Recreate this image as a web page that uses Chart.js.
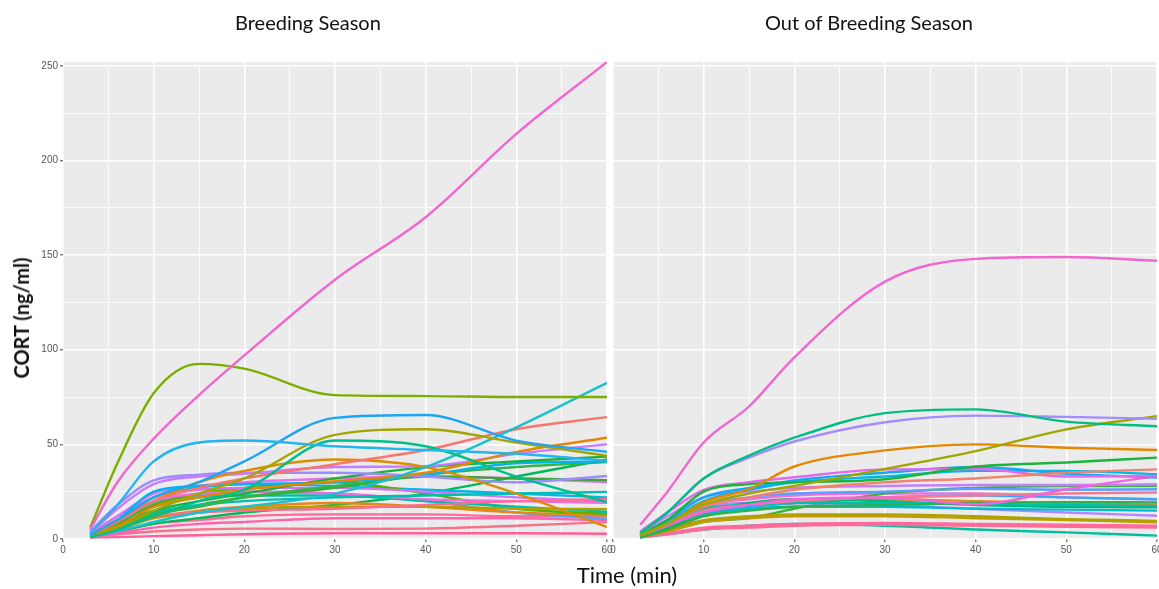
<!DOCTYPE html>
<html>
<head>
<meta charset="utf-8">
<title>CORT response curves</title>
<script src="https://cdn.jsdelivr.net/npm/chart.js@4.4.1/dist/chart.umd.min.js"></script>
<style>
  html, body { margin: 0; padding: 0; background: #ffffff; overflow: hidden; }
  #fig { position: relative; width: 1159px; height: 589px; overflow: hidden; }
  #fig canvas { position: absolute; top: 0; }
  .lbl { position: absolute; white-space: nowrap; color: #111; font-family: Lato, "Open Sans", sans-serif; line-height: 1; }
</style>
</head>
<body>
<div id="fig">
  <canvas id="breedingChart" width="630" height="589" style="left:0px"></canvas>
  <canvas id="outChart" width="590" height="589" style="left:590px"></canvas>
  <div class="lbl" style="left:235px; top:12px; font-size:20px;">Breeding Season</div>
  <div class="lbl" style="left:765px; top:12px; font-size:20px;">Out of Breeding Season</div>
  <div class="lbl" style="left:21px; top:318px; font-size:20px; font-weight:700; transform: translate(-50%,-50%) rotate(-90deg);">CORT (ng/ml)</div>
  <div class="lbl" style="left:627px; top:575px; font-size:22px; transform: translate(-50%,-50%);">Time (min)</div>
</div>
<script>
// Sampling times (min) shared by every individual curve
const timesMin = [3, 6, 10, 15, 20, 30, 40, 50, 60];

// Axis tick positions
const xTicks = [0, 10, 20, 30, 40, 50, 60];
const yTicks = [0, 50, 100, 150, 200, 250];

// CORT (ng/ml) per individual, breeding season
const breedingCort = [
  [5, 30, 53, 76, 97, 137, 170, 214, 252],
  [6, 40, 77, 92.5, 90, 76, 75.5, 75, 75],
  [3, 18, 41, 51, 52, 49, 47, 45, 41.3],
  [2, 10, 22, 30, 41, 64, 65.5, 52, 46],
  [2, 6, 15, 24, 32, 55, 58, 51, 44],
  [1, 5, 12, 20, 26, 52, 49, 33, 19.5],
  [1, 4, 9, 14, 17, 24, 38, 59, 82.5],
  [2, 9, 20, 27, 32, 39.5, 47, 58, 64.4],
  [2, 7, 17, 22, 26, 30.5, 35, 46, 53.5],
  [2, 10, 20, 30, 36, 42, 38, 24, 6.3],
  [3, 16, 29, 33, 34.5, 38, 38.5, 45, 50],
  [4, 18, 31, 34, 35, 35, 33, 30, 33.3],
  [2, 8, 15, 20, 24, 32, 38, 41, 43.5],
  [2, 10, 25, 28, 29, 30, 34, 40, 41],
  [1, 6, 13, 17, 22, 28, 34, 38, 40.7],
  [2, 7, 14, 18, 20, 22, 23, 24, 24.9],
  [1, 5, 12, 18, 22, 27, 33, 32, 31.1],
  [2, 6, 12, 14, 15, 16, 18, 20, 21.1],
  [3, 12, 22, 26, 27, 27, 25, 22, 19.8],
  [2, 10, 20, 24, 25, 24, 21, 20, 19.1],
  [1, 5, 11, 14, 16, 17, 17, 16, 15.8],
  [2, 8, 17, 22, 23, 23, 20, 17, 14.4],
  [2, 8, 18, 24, 27, 30, 24, 16, 13.3],
  [1, 5, 11, 15, 17, 19, 17, 14, 12.4],
  [2, 9, 19, 23, 25, 24, 20, 14, 10.6],
  [1, 3, 6, 8, 9, 11, 11, 11, 9.7],
  [1, 2.5, 4, 5, 5.5, 5.3, 5.5, 7, 8.9],
  [0.8, 1, 1.5, 2, 2.5, 3, 3, 3, 2.8],
  [2, 10, 22, 27, 29, 28, 26, 24, 22],
  [1, 4, 8, 11, 14, 18, 24, 33, 42],
  [2, 12, 24, 28, 30, 32, 33, 32, 30],
  [1, 4, 8, 10, 12, 13, 13, 12, 12]
];

// CORT (ng/ml) per individual, out of breeding season
const outCort = [
  [7.5, 25, 51, 70, 96, 136, 148, 149, 147],
  [3, 14, 32, 44, 53.5, 66.5, 68.5, 62, 59.6],
  [3, 14, 32, 43, 51.5, 61.7, 65.2, 64.5, 63.5],
  [2, 8, 18, 24, 28, 37, 46.4, 57.9, 64.9],
  [2, 8, 19.3, 26.3, 38.3, 46.8, 50, 48.2, 47],
  [2, 10, 25, 29, 30, 31.6, 38.3, 40.4, 43],
  [2, 8, 17, 22, 26, 30, 32, 35, 36.8],
  [4, 14, 26, 30, 32.6, 36.8, 37, 33, 33.3],
  [2, 10, 22, 27, 31, 35, 38, 34.5, 32.5],
  [2, 9, 20, 26, 30, 33, 36, 36, 34.2],
  [2, 7, 14, 18, 21, 22, 18.4, 26.3, 33.3],
  [3, 12, 22, 25, 27, 28, 28.5, 28.5, 28.9],
  [2, 9, 18, 22, 24, 25, 26.5, 26, 26.3],
  [2, 7, 15, 18, 20, 22, 23, 24, 24.6],
  [1, 5, 12, 15, 17, 18, 19, 19.5, 19.3],
  [2, 8, 16, 18, 19, 19, 18.5, 18, 17.5],
  [2, 6, 14, 19, 21, 20, 18, 17, 16.7],
  [1, 6, 13, 16, 17, 17, 16, 15.5, 15],
  [3, 10, 17, 19, 19, 18, 16, 14, 12.3],
  [1, 5, 10, 12, 13, 13, 12, 10.5, 9.6],
  [1, 4, 9, 11, 12, 12, 11, 10, 8.8],
  [1, 3, 6, 7, 8, 8.5, 8, 7.5, 7],
  [1, 2.5, 5, 6, 7, 7.5, 7, 6.5, 6.1],
  [0.8, 2.5, 5, 7, 8, 7, 5, 3.5, 1.8],
  [1, 4, 9, 11, 16, 24, 27, 28, 28],
  [2, 7, 14, 17, 19, 22, 23, 22, 21],
  [1, 6, 13, 17, 19, 21, 20, 19, 18],
  [2, 9, 18, 21, 23, 24, 24, 22, 21]
];

// Line colours (hue palette, one per individual)
const breedingColors = [
  '#F166CF', '#7CAE00', '#22B5F0', '#1EA4F5', '#A3A500', '#00BF8C', '#1CBFD0', '#F8766D',
  '#E58700', '#DB8E00', '#C77CFF', '#9B8CFF', '#1BB23A', '#00B4F2', '#35B44A', '#00BFAE',
  '#39A934', '#FF6C91', '#D374F8', '#EE6BE0', '#B79F00', '#00C0A3', '#53B400', '#E7861B',
  '#4DA3FF', '#FF62AF', '#F8728B', '#FF5F9A', '#00B8E7', '#00BA55', '#E96EF2', '#FF6A98'
];
const outColors = [
  '#F166CF', '#00BE83', '#A48CFF', '#9DA700', '#E58700', '#1EB43C', '#F4816B', '#E269F0',
  '#12A8F6', '#00B7EC', '#F064DC', '#C47EFF', '#5B9EFF', '#F47A93', '#2BB24E', '#00BFB0',
  '#00B86A', '#00BCD2', '#B684FF', '#ADA200', '#C39C00', '#FF69A0', '#FF6C91', '#00BFA0',
  '#3FB33A', '#35A8F8', '#E48A1C', '#F56FD9'
];

// Grey panel background behind the grid
const panelBackground = {
  id: 'panelBackground',
  beforeDraw(chart) {
    const a = chart.chartArea;
    const ctx = chart.ctx;
    ctx.save();
    ctx.fillStyle = '#EBEBEB';
    ctx.fillRect(a.left, a.top, a.right - a.left, a.bottom - a.top);
    ctx.restore();
  }
};

function buildDatasets(series, colors) {
  return series.map((vals, i) => ({
    data: vals.map((v, j) => ({ x: timesMin[j], y: v })),
    borderColor: colors[i % colors.length],
    backgroundColor: colors[i % colors.length],
    borderWidth: 2.4,
    pointRadius: 0,
    fill: false,
    cubicInterpolationMode: 'monotone'
  }));
}

const tickFont = { family: '"Liberation Sans", Arial, sans-serif', size: 10 };
const tickGrey = '#555555';

function makePanel(canvasId, series, colors, withYAxis) {
  const xMajor = v => xTicks.includes(v);
  const yMajor = v => yTicks.includes(v);
  return new Chart(document.getElementById(canvasId), {
    type: 'line',
    data: { datasets: buildDatasets(series, colors) },
    plugins: [panelBackground],
    options: {
      responsive: false,
      animation: false,
      events: [],
      layout: { padding: withYAxis ? { top: 62, right: 23, left: 0, bottom: 0 } : { top: 62, right: 23, left: 23, bottom: 0 } },
      plugins: { legend: { display: false }, tooltip: { enabled: false }, title: { display: false } },
      scales: {
        x: {
          type: 'linear',
          min: 0,
          max: 60,
          border: { display: false },
          grid: {
            color: '#FFFFFF',
            lineWidth: c => (c.tick && xMajor(c.tick.value)) ? 1.6 : 0.8,
            drawTicks: true,
            tickLength: 3,
            tickWidth: 1,
            tickColor: c => (c.tick && xMajor(c.tick.value)) ? '#444444' : 'rgba(0,0,0,0)'
          },
          ticks: {
            stepSize: 5,
            autoSkip: false,
            maxRotation: 0,
            includeBounds: false,
            padding: 2,
            color: tickGrey,
            font: tickFont,
            callback: v => xMajor(v) ? String(v) : ''
          },
          afterFit: s => { s.height = 50; }
        },
        y: {
          type: 'linear',
          min: 0,
          max: 252,
          border: { display: false },
          grid: {
            color: '#FFFFFF',
            lineWidth: c => (c.tick && yMajor(c.tick.value)) ? 1.6 : 0.8,
            drawTicks: withYAxis,
            tickLength: 3,
            tickWidth: 1,
            tickColor: c => (c.tick && yMajor(c.tick.value)) ? '#444444' : 'rgba(0,0,0,0)'
          },
          ticks: {
            display: withYAxis,
            stepSize: 25,
            autoSkip: false,
            includeBounds: false,
            padding: 2,
            color: tickGrey,
            font: tickFont,
            callback: v => yMajor(v) ? String(v) : ''
          },
          afterFit: s => { s.width = withYAxis ? 63 : 0; }
        }
      }
    }
  });
}

makePanel('breedingChart', breedingCort, breedingColors, true);
makePanel('outChart', outCort, outColors, false);
</script>
</body>
</html>
